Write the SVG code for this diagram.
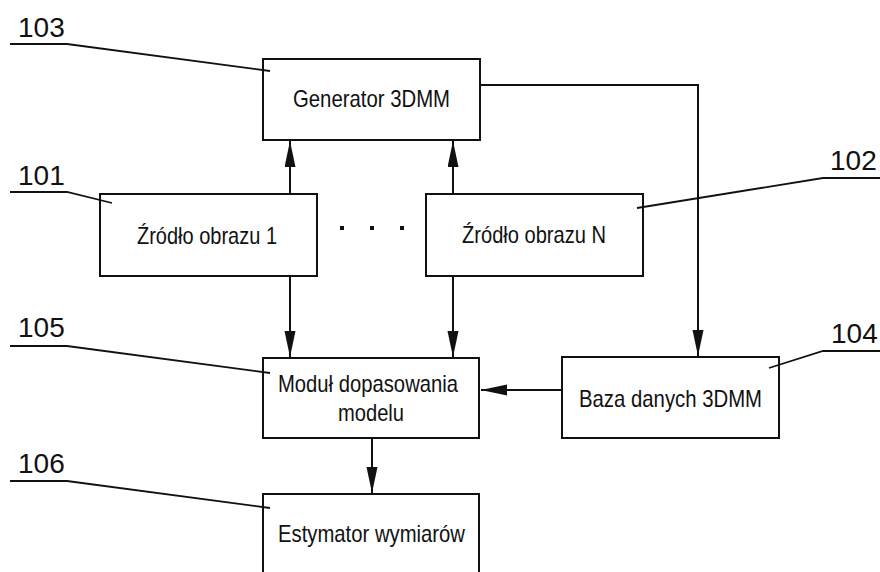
<svg xmlns="http://www.w3.org/2000/svg" width="880" height="572" viewBox="0 0 880 572">
<style>
.box{fill:#fff;stroke:#111;stroke-width:2}
.t{font-family:"Liberation Sans",Arial,sans-serif;font-size:24px;fill:#111;text-anchor:middle}
.lbl{font-family:"Liberation Sans",Arial,sans-serif;font-size:28px;fill:#111}
.ln{fill:none;stroke:#111;stroke-width:2}
.ld{fill:none;stroke:#111;stroke-width:1.8}
</style>
<defs>
<marker id="ah" markerUnits="userSpaceOnUse" markerWidth="27" markerHeight="12" refX="26" refY="5.5" orient="auto">
<path d="M0,0 L26,5.5 L0,11 z" fill="#111"/>
</marker>
</defs>
<rect width="880" height="572" fill="#fff"/>
<g id="connectors">
<line class="ln" x1="290" y1="194" x2="290" y2="141" marker-end="url(#ah)"/>
<line class="ln" x1="453" y1="194" x2="453" y2="141" marker-end="url(#ah)"/>
<line class="ln" x1="290" y1="276" x2="290" y2="357" marker-end="url(#ah)"/>
<line class="ln" x1="453" y1="276" x2="453" y2="357" marker-end="url(#ah)"/>
<polyline class="ln" points="480,85 698,85 698,356" marker-end="url(#ah)"/>
<line class="ln" x1="562" y1="390" x2="481" y2="390" marker-end="url(#ah)"/>
<line class="ln" x1="372" y1="438" x2="372" y2="493" marker-end="url(#ah)"/>
</g>
<g id="n103">
<rect class="box" x="263" y="59" width="217" height="81"/>
<text class="t" x="371.5" y="107" textLength="157" lengthAdjust="spacingAndGlyphs">Generator 3DMM</text>
</g>
<g id="n101">
<rect class="box" x="100" y="194" width="217" height="82"/>
<text class="t" x="207" y="244" textLength="140" lengthAdjust="spacingAndGlyphs">Źródło obrazu 1</text>
</g>
<g id="n102">
<rect class="box" x="426" y="194" width="217" height="82"/>
<text class="t" x="534" y="243" textLength="144" lengthAdjust="spacingAndGlyphs">Źródło obrazu N</text>
</g>
<g id="dots" fill="#111">
<rect x="340" y="226" width="4" height="4"/>
<rect x="370" y="226" width="4" height="4"/>
<rect x="400" y="226" width="4" height="4"/>
</g>
<g id="n105">
<rect class="box" x="263" y="358" width="216" height="80"/>
<text class="t" x="368" y="392" textLength="180" lengthAdjust="spacingAndGlyphs">Moduł dopasowania</text>
<text class="t" x="371" y="421" textLength="66" lengthAdjust="spacingAndGlyphs">modelu</text>
</g>
<g id="n104">
<rect class="box" x="562" y="357" width="217" height="81"/>
<text class="t" x="670.5" y="407" textLength="183" lengthAdjust="spacingAndGlyphs">Baza danych 3DMM</text>
</g>
<g id="n106">
<rect class="box" x="263" y="494" width="216" height="90"/>
<text class="t" x="371.5" y="542" textLength="187" lengthAdjust="spacingAndGlyphs">Estymator wymiarów</text>
</g>
<g id="labels">
<text class="lbl" x="18" y="37">103</text>
<polyline class="ld" points="10,44 67,44 270,71"/>
<text class="lbl" x="18" y="185">101</text>
<polyline class="ld" points="10,192 67,192 112,203"/>
<text class="lbl" x="830" y="170">102</text>
<polyline class="ld" points="880,178 823,178 637,208"/>
<text class="lbl" x="18" y="337">105</text>
<polyline class="ld" points="10,346 67,346 270,373"/>
<text class="lbl" x="18" y="473">106</text>
<polyline class="ld" points="10,481 67,481 270,508"/>
<text class="lbl" x="831" y="343">104</text>
<polyline class="ld" points="880,351 823,351 769,368"/>
</g>
</svg>
